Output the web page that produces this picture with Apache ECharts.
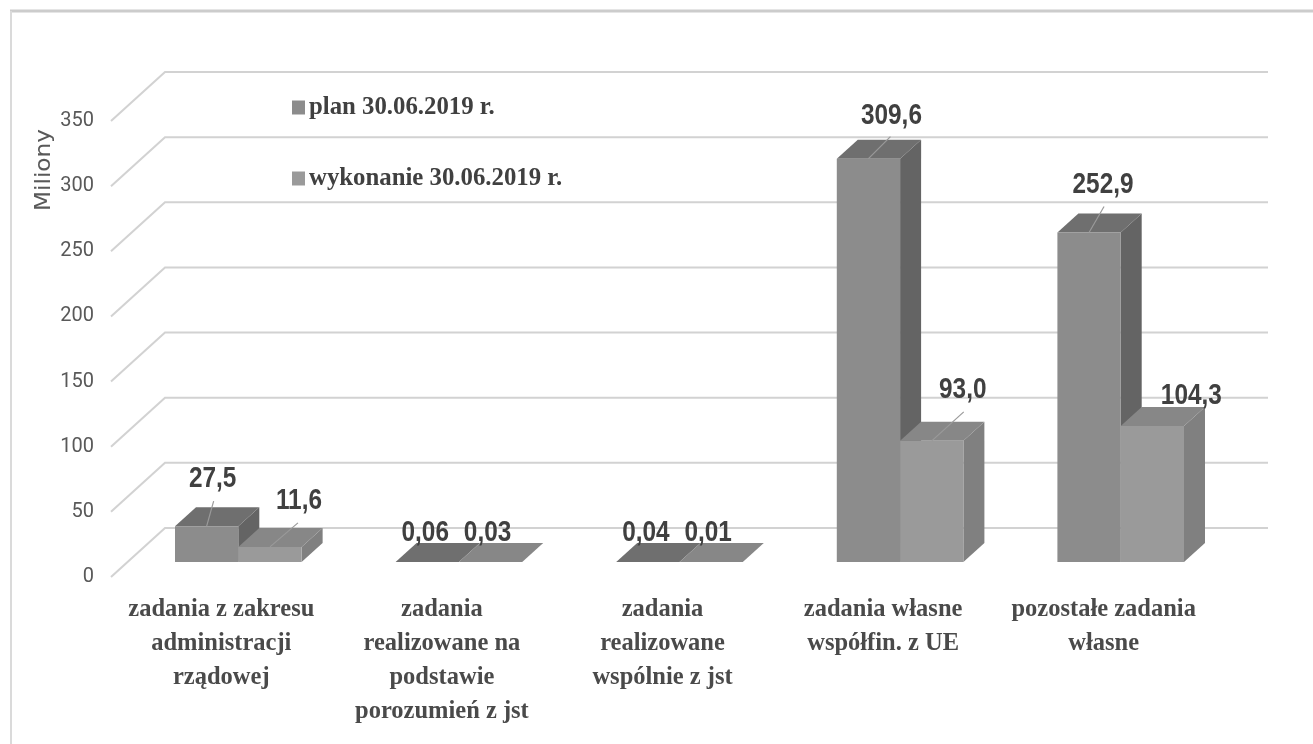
<!DOCTYPE html>
<html>
<head>
<meta charset="utf-8">
<style>
    html, body { margin: 0; padding: 0; background: #fff; }
    #chart { width: 1313px; height: 744px; }
</style>
<script src="https://cdn.jsdelivr.net/npm/echarts@6/dist/echarts.min.js"></script>
</head>
<body>
<div id="chart"></div>
<script>
// Data
const categories = [
    'zadania z zakresu\nadministracji\nrządowej',
    'zadania\nrealizowane na\npodstawie\nporozumień z jst',
    'zadania\nrealizowane\nwspólnie z jst',
    'zadania własne\nwspółfin. z UE',
    'pozostałe zadania\nwłasne'
];
const planValues = [27.5, 0.06, 0.04, 309.6, 252.9];
const doneValues = [11.6, 0.03, 0.01, 93.0, 104.3];
const valueTicks = [0, 50, 100, 150, 200, 250, 300, 350];
const planName = 'plan 30.06.2019 r.';
const doneName = 'wykonanie 30.06.2019 r.';

// Pseudo 3D look
const wallDepth = [54, -49];
const barShift = [17, -15];
const barDepth = [21, -19];
const barWidth = 63.3;
const gridLine = '#d2d2d2';

const serifFont = '"Liberation Serif", serif';

// Where the value label sits, relative to the top front centre of its bar
const planLabels = [[6, -47], [-2, -29], [-2, -29], [23, -43], [14, -48]];
const doneLabels = [[29, -46], [-3, -29], [-3, -29], [31, -51], [39, -30]];
// Leader line end relative to the same point, null = no line
const planLeaders = [[7, -25], null, null, [22, -22], [15, -26]];
const doneLeaders = [[28, -24], null, null, [32, -29], null];

function formatValue(v) {
    return v.toFixed(v < 1 ? 2 : 1).replace('.', ',');
}

function barSeries(name, values, side, colors, labelOffsets, leaders) {
    return {
        name: name,
        type: 'custom',
        coordinateSystem: 'cartesian2d',
        itemStyle: { color: colors.front },
        data: values.map((v, i) => [i, v]),
        renderItem: (params, api) => {
            const i = api.value(0);
            const val = api.value(1);
            const top = api.coord([i, val]);
            const base = api.coord([i, 0]);
            const x0 = top[0] + barShift[0] + (side === 0 ? -barWidth : 0);
            const x1 = x0 + barWidth;
            const yTop = top[1] + barShift[1];
            const yBase = base[1] + barShift[1];
            const dx = barDepth[0];
            const dy = barDepth[1];
            const midX = (x0 + x1) / 2;

            const children = [
                {
                    type: 'polygon',
                    shape: { points: [[x1, yTop], [x1 + dx, yTop + dy], [x1 + dx, yBase + dy], [x1, yBase]] },
                    style: { fill: colors.side }
                },
                {
                    type: 'polygon',
                    shape: { points: [[x0, yTop], [x0 + dx, yTop + dy], [x1 + dx, yTop + dy], [x1, yTop]] },
                    style: { fill: colors.top }
                },
                {
                    type: 'rect',
                    shape: { x: x0, y: yTop, width: barWidth, height: yBase - yTop },
                    style: { fill: colors.front }
                }
            ];

            const leader = leaders[i];
            if (leader) {
                children.push({
                    type: 'line',
                    shape: { x1: midX, y1: yTop, x2: midX + leader[0], y2: yTop + leader[1] },
                    style: { stroke: '#9a9a9a', lineWidth: 1.2 },
                    z2: 5
                });
            }

            const off = labelOffsets[i];
            children.push({
                type: 'text',
                x: midX + off[0],
                y: yTop + off[1],
                scaleX: 0.84,
                style: {
                    text: formatValue(val),
                    font: '700 29px "Liberation Sans", sans-serif',
                    fill: '#404040',
                    align: 'center',
                    verticalAlign: 'middle'
                },
                z2: 10
            });
            return { type: 'group', children: children };
        }
    };
}

let chart = echarts.init(document.getElementById('chart'));

let option = {
    animation: false,
    backgroundColor: '#ffffff',
    graphic: [
        { type: 'line', shape: { x1: 10, y1: 11, x2: 1313, y2: 11 }, style: { stroke: '#cccccc', lineWidth: 3 } },
        { type: 'line', shape: { x1: 11, y1: 11, x2: 11, y2: 744 }, style: { stroke: '#dadada', lineWidth: 2 } },
        {
            type: 'text',
            x: 44,
            y: 170,
            rotation: Math.PI / 2,
            scaleX: 1.08,
            style: {
                text: 'Miliony',
                font: '21.5px "DejaVu Sans", sans-serif',
                fill: '#595959',
                align: 'center',
                verticalAlign: 'middle'
            }
        }
    ],
    legend: {
        orient: 'vertical',
        left: 287,
        top: 90,
        itemWidth: 13,
        itemHeight: 14,
        itemGap: 46,
        data: [{ name: planName, icon: 'rect' }, { name: doneName, icon: 'rect' }],
        textStyle: {
            fontFamily: serifFont,
            fontWeight: 'bold',
            fontSize: 24.8,
            color: '#404040',
            padding: [3, 0, 0, -1]
        }
    },
    grid: { left: 111, top: 121, width: 1103, height: 456 },
    xAxis: {
        type: 'category',
        data: categories,
        axisLine: { show: false },
        axisTick: { show: false },
        axisLabel: {
            interval: 0,
            margin: 16,
            fontFamily: serifFont,
            fontWeight: 'bold',
            fontSize: 24.5,
            lineHeight: 34,
            color: '#4a4a4a'
        }
    },
    yAxis: {
        type: 'value',
        min: 0,
        max: 350,
        interval: 50,
        axisLine: { show: false },
        axisTick: { show: false },
        splitLine: { show: false },
        axisLabel: { margin: 17, padding: [2, 0, 0, 0], fontFamily: 'Roboto', fontSize: 20, color: '#595959' }
    },
    series: [
        {
            // Back wall and left wall lines
            type: 'custom',
            coordinateSystem: 'cartesian2d',
            silent: true,
            z: 1,
            data: valueTicks.map(v => [0, v]),
            renderItem: (params, api) => {
                const p = api.coord([0, api.value(1)]);
                const left = params.coordSys.x;
                const right = left + params.coordSys.width;
                return {
                    type: 'polyline',
                    shape: {
                        points: [
                            [left, p[1]],
                            [left + wallDepth[0], p[1] + wallDepth[1]],
                            [right + wallDepth[0], p[1] + wallDepth[1]]
                        ]
                    },
                    style: { stroke: gridLine, lineWidth: 2, fill: null }
                };
            }
        },
        barSeries(planName, planValues, 0, { front: '#8c8c8c', top: '#6f6f6f', side: '#646464' }, planLabels, planLeaders),
        barSeries(doneName, doneValues, 1, { front: '#9a9a9a', top: '#878787', side: '#808080' }, doneLabels, doneLeaders)
    ]
};

chart.setOption(option);
</script>
</body>
</html>
